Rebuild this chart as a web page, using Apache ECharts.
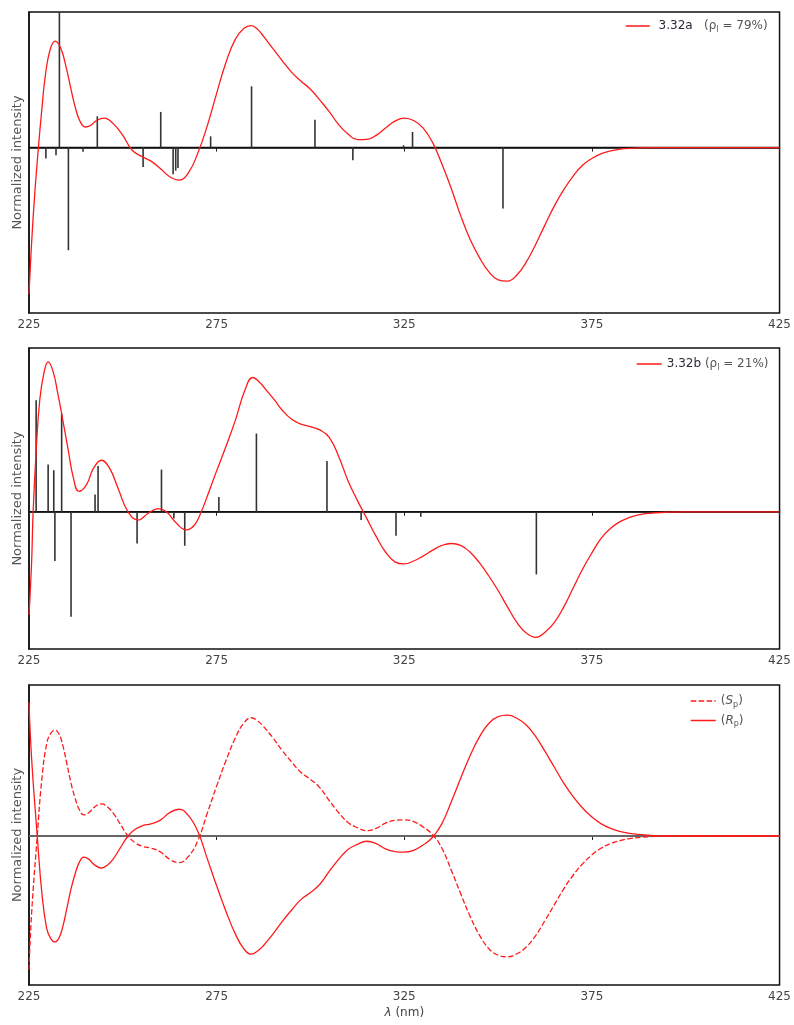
<!DOCTYPE html>
<html><head><meta charset="utf-8">
<script src="https://cdn.jsdelivr.net/npm/echarts@6/dist/echarts.min.js"></script>
<style>html,body{margin:0;padding:0;background:#fff}#c{width:794px;height:1025px}</style>
</head><body><div id="c"></div>
<script>
// ---- data ----
const xTicks = [225, 275, 325, 375, 425];

// Panel 1: spectrum 3.32a (lambda nm, normalized intensity)
const curveA = [[225,-1.08],[225.7,-0.70],[226.6,-0.315],[227.5,0],[228.4,0.275],[229.3,0.52],[230.6,0.72],[232,0.785],[233.5,0.73],[235,0.58],[236.2,0.43],[237.2,0.31],[238.5,0.2],[240,0.152],[241.5,0.165],[243,0.2],[245,0.218],[247.5,0.175],[250,0.09],[252.5,-0.02],[255,-0.065],[257.5,-0.10],[260,-0.155],[262.5,-0.215],[265,-0.24],[267.5,-0.185],[270,-0.04],[272.5,0.16],[275,0.40],[277.5,0.63],[280,0.80],[282.3,0.88],[284.2,0.90],[286,0.87],[287.5,0.82],[290,0.73],[292.5,0.64],[295,0.555],[297.5,0.49],[300,0.43],[302.5,0.35],[305,0.265],[307.5,0.17],[310,0.10],[312.5,0.058],[315,0.06],[317.5,0.09],[320,0.145],[322.5,0.195],[325,0.218],[327.5,0.2],[330,0.145],[332.5,0.04],[335,-0.12],[337.5,-0.30],[340,-0.50],[342.5,-0.675],[345,-0.81],[347.5,-0.915],[350,-0.975],[352.5,-0.985],[355,-0.94],[357.5,-0.845],[360,-0.715],[362.5,-0.57],[365,-0.43],[367.5,-0.31],[370,-0.21],[372.5,-0.13],[375,-0.08],[377.5,-0.045],[380,-0.024],[382.5,-0.012],[385,-0.006],[390,-0.001],[395,0],[425,0]];
const sticksA = [[229.5,-0.08],[232.2,-0.057],[233.1,1.1],[235.5,-0.757],[239.4,-0.03],[243.2,0.231],[255.4,-0.143],[260.1,0.263],[263.4,-0.197],[264.1,-0.17],[264.7,-0.15],[273.4,0.083],[284.3,0.452],[301.2,0.206],[311.3,-0.094],[324.8,0.017],[327.2,0.115],[351.3,-0.45]];

// Panel 2: spectrum 3.32b
const curveB = [[225,-0.63],[225.7,-0.305],[226.1,0],[227,0.41],[227.9,0.69],[229,0.85],[230.1,0.915],[231.5,0.85],[232.6,0.73],[233.7,0.6],[235.5,0.37],[236.8,0.21],[238.3,0.125],[240.3,0.165],[242.1,0.262],[244.3,0.315],[246.5,0.265],[248.8,0.14],[251.4,0],[254.1,-0.05],[256.7,-0.01],[259.4,0.02],[261.6,0],[264.3,-0.07],[266.9,-0.11],[269.1,-0.08],[270.9,0],[272.9,0.12],[274.9,0.244],[277.5,0.40],[280,0.56],[282.5,0.74],[284.6,0.82],[286.5,0.79],[288.5,0.735],[290.5,0.68],[292.5,0.62],[295,0.565],[297.5,0.535],[300,0.52],[302.5,0.50],[305,0.455],[307.5,0.34],[310,0.19],[312.5,0.07],[315,-0.04],[317.5,-0.15],[320,-0.245],[322.5,-0.305],[325,-0.318],[327.5,-0.30],[330,-0.27],[332.5,-0.235],[335,-0.205],[337.5,-0.193],[340,-0.205],[342.5,-0.245],[345,-0.31],[347.5,-0.39],[350,-0.48],[352.5,-0.58],[355,-0.675],[357.5,-0.74],[360,-0.766],[362.5,-0.735],[365,-0.675],[367.5,-0.58],[370,-0.465],[372.5,-0.35],[375,-0.25],[377.5,-0.16],[380,-0.10],[382.5,-0.06],[385,-0.034],[387.5,-0.018],[390,-0.009],[395,-0.002],[400,0],[425,0]];
const sticksB = [[226.9,0.681],[230.1,0.289],[231.6,0.254],[231.9,-0.30],[233.7,0.60],[236.2,-0.64],[242.6,0.106],[243.4,0.28],[253.8,-0.193],[260.3,0.258],[263.6,-0.04],[266.5,-0.207],[275.6,0.091],[285.6,0.478],[304.4,0.311],[313.5,-0.05],[322.8,-0.146],[329.4,-0.03],[360.2,-0.382]];

// Panel 3: (S) dashed and (R) solid
const curveS = [[225,-0.887],[225.7,-0.51],[227.2,0],[228.4,0.37],[229.7,0.61],[230.8,0.68],[231.9,0.702],[233,0.675],[234,0.6],[235,0.49],[236.2,0.35],[237.3,0.25],[238.4,0.175],[239.6,0.14],[241,0.155],[242.3,0.188],[244.3,0.212],[246,0.19],[247.5,0.15],[249.2,0.084],[251.4,0],[253.3,-0.045],[255.4,-0.07],[257.5,-0.08],[260,-0.105],[262.5,-0.155],[265,-0.177],[267.5,-0.135],[270,-0.03],[272.5,0.15],[275,0.33],[277.5,0.50],[280,0.65],[282.3,0.75],[284.2,0.783],[286,0.76],[287.5,0.725],[290,0.65],[292.5,0.565],[295,0.49],[297.5,0.42],[300,0.375],[302.5,0.32],[305,0.235],[307.5,0.155],[310,0.09],[312.5,0.055],[315,0.035],[317.5,0.05],[320,0.085],[322.5,0.103],[325,0.107],[327.5,0.095],[330,0.06],[332.5,0.01],[335,-0.08],[337.5,-0.225],[340,-0.38],[342.5,-0.53],[345,-0.655],[347.5,-0.745],[350,-0.79],[352.5,-0.80],[355,-0.78],[357.5,-0.735],[360,-0.66],[362.5,-0.56],[365,-0.455],[367.5,-0.35],[370,-0.26],[372.5,-0.185],[375,-0.125],[377.5,-0.08],[380,-0.05],[382.5,-0.03],[385,-0.017],[390,-0.005],[395,0],[425,0]];
const curveR = [[225,0.887],[225.7,0.51],[227.2,0],[228.4,-0.37],[229.7,-0.61],[230.8,-0.68],[231.9,-0.702],[233,-0.675],[234,-0.6],[235,-0.49],[236.2,-0.35],[237.3,-0.25],[238.4,-0.175],[239.6,-0.14],[241,-0.155],[242.3,-0.188],[244.3,-0.212],[246,-0.19],[247.5,-0.15],[249.2,-0.084],[251.4,0],[253.3,0.045],[255.4,0.07],[257.5,0.08],[260,0.105],[262.5,0.155],[265,0.177],[267.5,0.135],[270,0.03],[272.5,-0.15],[275,-0.33],[277.5,-0.50],[280,-0.65],[282.3,-0.75],[284.2,-0.783],[286,-0.76],[287.5,-0.725],[290,-0.65],[292.5,-0.565],[295,-0.49],[297.5,-0.42],[300,-0.375],[302.5,-0.32],[305,-0.235],[307.5,-0.155],[310,-0.09],[312.5,-0.055],[315,-0.035],[317.5,-0.05],[320,-0.085],[322.5,-0.103],[325,-0.107],[327.5,-0.095],[330,-0.06],[332.5,-0.01],[335,0.08],[337.5,0.225],[340,0.38],[342.5,0.53],[345,0.655],[347.5,0.745],[350,0.79],[352.5,0.80],[355,0.78],[357.5,0.735],[360,0.66],[362.5,0.56],[365,0.455],[367.5,0.35],[370,0.26],[372.5,0.185],[375,0.125],[377.5,0.08],[380,0.05],[382.5,0.03],[385,0.017],[390,0.005],[395,0],[425,0]];
const baseline = [[225,0],[425,0]];

// ---- chart ----
const FONT = 'DejaVu Sans';
const chart = echarts.init(document.getElementById('c'), null, {renderer:'canvas'});
const grids = [
  {left:29, top:12, width:752, height:301},
  {left:29, top:348, width:752, height:301},
  {left:29, top:685, width:752, height:300}
];
const yRanges = [[-1.22,1],[-0.837,1],[-0.987,1]];

function xAx(i){
  return {
    type:'value', gridIndex:i, min:225, max:425, interval:50,
    axisLine:{show:true, lineStyle:{color:'#111', width:1.5}},
    axisTick:{show:true, length:4, customValues:xTicks, lineStyle:{color:'#222', width:1}},
    axisLabel:{show:true, customValues:xTicks, fontFamily:FONT, fontSize:12, color:'#444', margin:6},
    splitLine:{show:false},
    name: i===2 ? '{i|λ} (nm)' : '',
    nameLocation:'middle', nameGap:22,
    nameTextStyle:{fontFamily:FONT, fontSize:12, color:'#444', rich:{i:{fontStyle:'italic', fontFamily:FONT, fontSize:12, color:'#444'}}}
  };
}
function yAx(i){
  return {
    type:'value', gridIndex:i, min:yRanges[i][0], max:yRanges[i][1],
    axisLine:{show:true, lineStyle:{color:'#111', width:1.5}},
    axisTick:{show:false}, axisLabel:{show:false}, splitLine:{show:false},
    name:'Normalized intensity', nameLocation:'middle', nameGap:5, nameRotate:90,
    nameTextStyle:{fontFamily:FONT, fontSize:13, color:'#555'}
  };
}
function sticks(i, data){
  return {
    type:'custom', xAxisIndex:i, yAxisIndex:i, data:data, clip:true, silent:true, z:3,
    encode:{x:0, y:1},
    renderItem:function(params, api){
      const x = api.value(0), y = api.value(1);
      const p0 = api.coord([x,0]), p1 = api.coord([x,y]);
      return {type:'line', shape:{x1:p0[0], y1:p0[1], x2:p1[0], y2:p1[1]},
              style:{stroke:'#333', lineWidth:1.6}};
    }
  };
}
function base(i, color, w){
  return {type:'line', xAxisIndex:i, yAxisIndex:i, data:baseline, symbol:'none', silent:true, z:2,
          lineStyle:{color:color, width:w}, legendHoverLink:false};
}
function curve(i, name, data, dashed){
  return {type:'line', name:name, xAxisIndex:i, yAxisIndex:i, data:data, symbol:'none', smooth:0.45,
          silent:true, z:4, clip:true,
          lineStyle:{color:'#ff1a1a', width:1.3, type: dashed ? [5.5,2.4] : 'solid'},
          itemStyle:{color:'#ff1a1a'}};
}

const rich = {
  n:{fontFamily:FONT, fontSize:12, color:'#2a2a3a'},
  t:{fontFamily:FONT, fontSize:12, color:'#555'},
  i:{fontFamily:FONT, fontSize:12, color:'#555', fontStyle:'italic'},
  s:{fontFamily:FONT, fontSize:8, color:'#555', padding:[7,0,0,0]}
};
const legendCommon = {padding:0, selectedMode:false, itemStyle:{opacity:0, borderWidth:0},
                      lineStyle:{width:1.5}};

const option = {
  animation:false,
  backgroundColor:'#fff',
  grid: grids.map(g => Object.assign({show:true, borderColor:'#111', borderWidth:1.5, backgroundColor:'transparent', containLabel:false}, g)),
  xAxis:[xAx(0), xAx(1), xAx(2)],
  yAxis:[yAx(0), yAx(1), yAx(2)],
  legend:[
    Object.assign({data:['3.32a'], left:625, top:20, itemWidth:24, itemHeight:14,
     formatter:() => ' {n|3.32a}   {t|(ρ}{s|l}{t| = 79%)}', textStyle:{rich:rich, fontFamily:FONT, fontSize:12}}, legendCommon),
    Object.assign({data:['3.32b'], left:636, top:358, itemWidth:25, itemHeight:14,
     formatter:() => '{n|3.32b} {t|(ρ}{s|l}{t| = 21%)}', textStyle:{rich:rich, fontFamily:FONT, fontSize:12}}, legendCommon),
    Object.assign({data:['S','R'], left:690, top:695, orient:'vertical', itemWidth:25, itemHeight:14, itemGap:6,
     formatter:(n) => '{t|(}{i|' + n + '}{s|p}{t|)}', textStyle:{rich:rich, fontFamily:FONT, fontSize:12}}, legendCommon)
  ],
  series:[
    base(0,'#111',1.5), sticks(0, sticksA), curve(0,'3.32a',curveA,false),
    base(1,'#111',1.5), sticks(1, sticksB), curve(1,'3.32b',curveB,false),
    base(2,'#666',2.2), curve(2,'S',curveS,true), curve(2,'R',curveR,false)
  ]
};
chart.setOption(option);
</script>
</body></html>
